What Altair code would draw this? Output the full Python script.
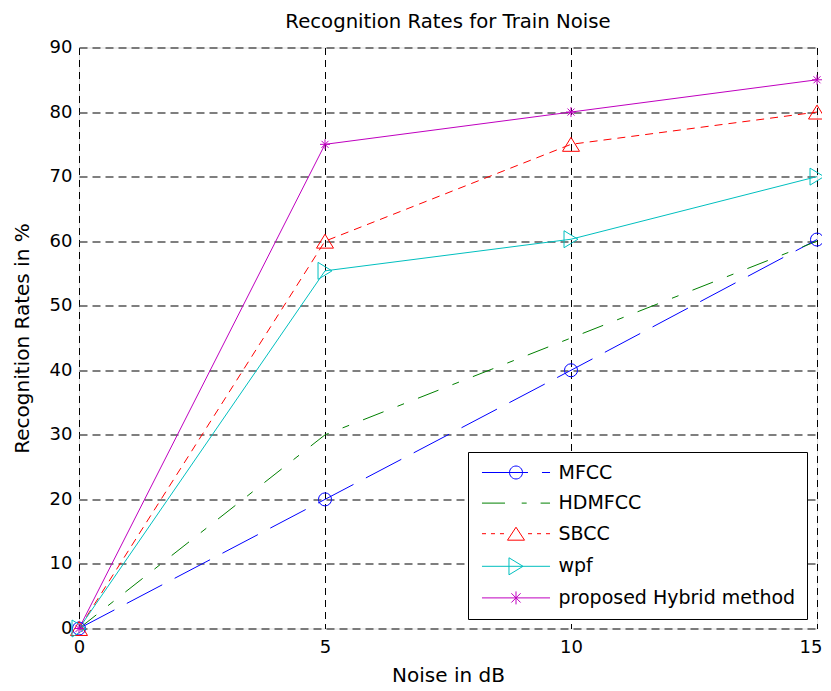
import altair as alt
import pandas as pd

# ---- data ----
noise_db = [0, 5, 10, 15]
series_names = ["MFCC", "HDMFCC", "SBCC", "wpf", "proposed Hybrid method"]
mfcc = [0, 20, 40, 60.25]
hdmfcc = [0, 30, 45, 60]
sbcc = [0, 60, 75, 80]
wpf = [0, 55.4, 60.3, 70]
hybrid = [0, 75, 80, 85]
x_ticks = [0, 5, 10, 15]
y_ticks = [0, 10, 20, 30, 40, 50, 60, 70, 80, 90]

# ---- styles ----
colors = ["#0000ff", "#008000", "#ff0000", "#00bfbf", "#bf00bf"]
dashes = [[40, 14], [22, 15, 7, 15], [8, 6], None, None]
marker_paths = [
    "circle",
    None,
    "M0,-0.82L1,0.82L-1,0.82Z",
    "M-0.82,-1L0.82,0L-0.82,1Z",
    "M-1,0H1M0,-1V1M-0.7,-0.7L0.7,0.7M-0.7,0.7L0.7,-0.7",
]
marker_sizes = [169, 0, 289, 289, 100]
# legend symbols: line sample + marker (unit = 6 px)
legend_paths = [
    "M-5.67,0H2M4.33,0H5.67M-1.08,0A1.08,1.08 0 1,1 1.08,0A1.08,1.08 0 1,1 -1.08,0",
    "M-5.67,0H-1.83M0.95,0H1.78M4.1,0H5.67",
    "M-5.67,0H-5M-4.17,0H-3.5M-2.67,0H-2M2,0H2.67M3.5,0H4.17M5,0H5.67"
    "M0,-1.08L1.42,1.08L-1.42,1.08Z",
    "M-5.67,0H5.67M-1.17,-1.42L1.17,0L-1.17,1.42Z",
    "M-5.67,0H5.67M0,-1.08V1.08M-0.77,-0.77L0.77,0.77M-0.77,0.77L0.77,-0.77",
]

values = [mfcc, hdmfcc, sbcc, wpf, hybrid]
rows = []
for name, vals in zip(series_names, values):
    for x, v in zip(noise_db, vals):
        rows.append({"series": name, "noise": x, "rate": v})
df = pd.DataFrame(rows)

FONT = "DejaVu Sans"

x_enc = alt.X(
    "noise:Q",
    scale=alt.Scale(domain=[0, 15], nice=False, zero=False),
    axis=alt.Axis(
        title="Noise in dB", values=x_ticks, format="d", grid=True,
        gridDash=[7, 5], gridColor="#000000", gridWidth=1, gridOpacity=1,
        ticks=False, domain=False, labelFont=FONT, labelFontSize=18,
        labelColor="#000000", labelPadding=10, titleFont=FONT,
        titleFontSize=20, titleFontWeight="normal", titleColor="#000000",
        titlePadding=9, labelFlush=False,
        labelAlign={"condition": {"test": "datum.value == 15", "value": "right"}, "value": "center"},
        labelOffset={"condition": {"test": "datum.value == 15", "value": 5}, "value": 0},
    ),
)
y_enc = alt.Y(
    "rate:Q",
    scale=alt.Scale(domain=[0, 90], nice=False, zero=False),
    axis=alt.Axis(
        title="Recognition Rates in %", values=y_ticks, format="d", grid=True,
        gridDash=[8, 5], gridColor="#555555", gridWidth=1.3, gridOpacity=1,
        ticks=False, domain=False, labelFont=FONT, labelFontSize=18,
        labelColor="#000000", labelPadding=7, titleFont=FONT,
        titleFontSize=20, titleFontWeight="normal", titleColor="#000000",
        titlePadding=17, labelFlush=False,
    ),
)

layers = []
for name, col, dash in zip(series_names, colors, dashes):
    kw = dict(color=col, strokeWidth=1)
    if dash is not None:
        kw["strokeDash"] = dash
    layers.append(
        alt.Chart(df).transform_filter(alt.datum.series == name)
        .mark_line(**kw).encode(x=x_enc, y=y_enc)
    )
for name, col, shp, sz in zip(series_names, colors, marker_paths, marker_sizes):
    if shp is None:
        continue
    layers.append(
        alt.Chart(df).transform_filter(alt.datum.series == name)
        .mark_point(shape=shp, size=sz, filled=False, color=col, strokeWidth=1, opacity=1)
        .encode(x=x_enc, y=y_enc)
    )

legend = alt.Legend(
    title=None, orient="none", legendX=389, legendY=404.5,
    strokeColor="#000000", fillColor="#ffffff", padding=11,
    symbolSize=144, symbolStrokeWidth=1, symbolOffset=27.5,
    labelOffset=33, labelFont=FONT, labelFontSize=19, labelColor="#000000",
    labelLimit=400, rowPadding=10.6, symbolFillColor="transparent",
)
legend_layer = (
    alt.Chart(df).transform_filter("false")
    .mark_point(filled=False, strokeWidth=1, opacity=1)
    .encode(
        x=x_enc, y=y_enc,
        color=alt.Color("series:N", scale=alt.Scale(domain=series_names, range=colors), legend=legend),
        shape=alt.Shape("series:N", scale=alt.Scale(domain=series_names, range=legend_paths), legend=legend),
    )
)

chart = (
    alt.layer(legend_layer, *layers)
    .properties(
        width=738, height=581,
        autosize=alt.AutoSizeParams(type="none"),
        padding={"left": 71, "top": 39.5, "right": 5, "bottom": 58},
        title=alt.TitleParams(
            "Recognition Rates for Train Noise", font=FONT, fontSize=19.7,
            fontWeight="normal", color="#000000", offset=7,
        ),
    )
    .configure_view(stroke="#000000", strokeWidth=1)
    .configure(background="#ffffff")
)

chart.save("out.html", embed_options={"renderer": "svg", "actions": False})
